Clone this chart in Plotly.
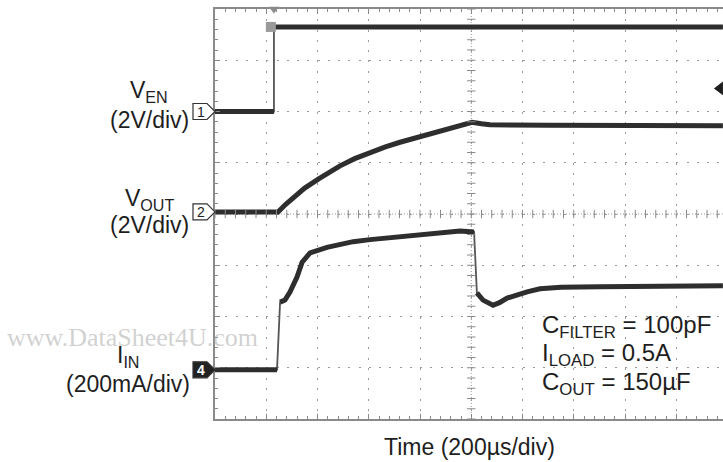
import numpy as np
import plotly.graph_objects as go

# ---------------- data ----------------
# time in µs from the left edge of the screen; 200 µs/div
ven_t = [0, 230, 230, 1982]
ven_v = [0.0, 0.0, 3.3, 3.3]                      # volts, 2 V/div

vout_t = [0, 246, 275, 304, 350, 406, 450, 488, 545, 605, 665, 722, 800, 850, 905, 950, 987, 1003, 1040, 1073, 1300, 1600, 1982]
vout_v = [0.0, 0.0, 0.29, 0.55, 0.93, 1.30, 1.57, 1.80, 2.08, 2.33, 2.54, 2.72, 2.94, 3.08, 3.23, 3.36, 3.46, 3.50, 3.44, 3.40, 3.38, 3.37, 3.36]

iin_t = [0, 242, 254, 273, 293, 320, 340, 371, 437, 539, 605, 722, 827, 956, 1011, 1022, 1046, 1085, 1110, 1140, 1180, 1218, 1268, 1350, 1502, 1982]
iin_ma = [0, 0, 264, 272, 304, 362, 420, 456, 478, 500, 508, 520, 532, 542, 538, 300, 272, 252, 262, 280, 294, 304, 316, 322, 324, 328]

# channel settings: volts (or mA) per division, ground position in divisions
ch_names = ["1", "2", "4"]
ch_scale = [2.0, 2.0, 200.0]
ch_ground = [6.0, 4.04, 0.96]
trig_level_v = 0.9           # ch1 trigger level (V)

time_per_div = 200
n_xdiv_visible = 508 / 51.25   # screen is cut off at the right
n_ydiv = 8

# ---------------- style ----------------
FONT = "Liberation Sans, Arial, sans-serif"
TRACE = "#2e2e2e"
GRID = "#9a9a9a"
FRAME = "#8a8a8a"

fig = go.Figure()

def to_div(vals, scale, ground):
    return [ground + v / scale for v in vals]

def thick_version(t, y):
    """break the thick line where the trace is a near-vertical edge"""
    xt, yt = [t[0]], [y[0]]
    for i in range(1, len(t)):
        dx = (t[i] - t[i - 1]) / time_per_div
        dy = abs(y[i] - y[i - 1])
        if dy > 0.5 and (dx == 0 or dy / dx > 6):
            xt.append(None); yt.append(None)
        xt.append(t[i]); yt.append(y[i])
    return xt, yt

traces = [(ven_t, to_div(ven_v, ch_scale[0], ch_ground[0])),
          (vout_t, to_div(vout_v, ch_scale[1], ch_ground[1])),
          (iin_t, to_div(iin_ma, ch_scale[2], ch_ground[2]))]

for t, y in traces:
    fig.add_trace(go.Scatter(x=t, y=y, mode="lines",
                             line=dict(color="#555555", width=1.8),
                             hoverinfo="skip", showlegend=False))
    xt, yt = thick_version(t, y)
    fig.add_trace(go.Scatter(x=xt, y=yt, mode="lines",
                             line=dict(color=TRACE, width=5),
                             connectgaps=False,
                             hoverinfo="skip", showlegend=False))

xmax = n_xdiv_visible * time_per_div
xc = 5 * time_per_div
yc = n_ydiv / 2

# center cross with sub-division ticks
fig.add_shape(type="line", x0=0, x1=xmax, y0=yc, y1=yc,
              line=dict(color=GRID, width=1, dash="1px,2px"), layer="below")
fig.add_shape(type="line", x0=xc, x1=xc, y0=0, y1=n_ydiv,
              line=dict(color=GRID, width=1, dash="1px,2px"), layer="below")
sub_x = np.arange(0, xmax, time_per_div / 5)
sub_y = np.arange(0, n_ydiv + 0.01, 0.2)
fig.add_trace(go.Scatter(x=sub_x, y=[yc] * len(sub_x), mode="markers",
                         marker=dict(symbol="line-ns", size=6, line=dict(color=FRAME, width=1)),
                         hoverinfo="skip", showlegend=False))
fig.add_trace(go.Scatter(x=[xc] * len(sub_y), y=sub_y, mode="markers",
                         marker=dict(symbol="line-ew", size=6, line=dict(color=FRAME, width=1)),
                         hoverinfo="skip", showlegend=False))

# trigger markers
fig.add_trace(go.Scatter(x=[ven_t[1]], y=[n_ydiv], mode="markers", cliponaxis=False,
                         marker=dict(symbol="triangle-down", size=9, color="#8c8c8c"),
                         hoverinfo="skip", showlegend=False))
fig.add_trace(go.Scatter(x=[ven_t[1] - 12], y=[ch_ground[0] + ven_v[2] / ch_scale[0]], mode="markers",
                         marker=dict(symbol="square", size=10, color="#9a9a9a"),
                         hoverinfo="skip", showlegend=False))
fig.add_trace(go.Scatter(x=[xmax - 12], y=[ch_ground[0] + trig_level_v / ch_scale[0]],
                         mode="markers", cliponaxis=False,
                         marker=dict(symbol="triangle-left", size=12, color="#1e1e1e"),
                         hoverinfo="skip", showlegend=False))

# channel ground markers (boxed numbers with arrow)
for name, g in zip(ch_names, ch_ground):
    filled = name == "4"
    fig.add_shape(type="path", xref="paper", yref="paper", xsizemode="pixel", ysizemode="pixel",
                  xanchor=0, yanchor=g / n_ydiv,
                  path="M -22,-8 L -8,-8 L 0,0 L -8,8 L -22,8 Z",
                  line=dict(color="#333333", width=1.2),
                  fillcolor="#222222" if filled else "white", layer="above")
    fig.add_annotation(x=0, y=g / n_ydiv, xref="paper", yref="paper",
                       text="<b>" + name + "</b>" if filled else name,
                       showarrow=False, xanchor="center", yanchor="middle",
                       xshift=-14, font=dict(family=FONT, size=14,
                                             color="white" if filled else "#222222"))

# ---------------- text ----------------
W0, H0 = 215, 419
PW, PH = 508, 410

def pxx(x):
    return (x - W0) / PW

def pyy(y):
    return (H0 - y) / PH

def label(text, x, y, xanchor="center", size=23, color="#1e1e1e", family=FONT):
    fig.add_annotation(x=pxx(x), y=pyy(y), xref="paper", yref="paper", text=text,
                       showarrow=False, xanchor=xanchor, yanchor="middle",
                       font=dict(family=family, size=size, color=color))

label("V<sub>EN</sub>", 149, 92)
label("(2V/div)", 149, 120)
label("V<sub>OUT</sub>", 149, 199)
label("(2V/div)", 149, 225)
label("I<sub>IN</sub>", 128, 356)
label("(200mA/div)", 128, 384)
label("C<sub>FILTER</sub> = 100pF", 540, 326, xanchor="left", size=24)
label("I<sub>LOAD</sub> = 0.5A", 540, 354, xanchor="left", size=24)
label("C<sub>OUT</sub> = 150µF", 540, 383, xanchor="left", size=24)
label("Time (200µs/div)", 469, 447)
label("www.DataSheet4U.com", 5, 337, xanchor="left", size=26, color="rgba(170,170,170,0.55)",
      family="Liberation Serif, Times New Roman, serif")

fig.update_layout(
    width=723, height=462,
    margin=dict(l=215, r=0, t=9, b=43),
    paper_bgcolor="white", plot_bgcolor="white",
    showlegend=False,
    xaxis=dict(range=[0, xmax], dtick=time_per_div, tick0=0,
               showgrid=True, gridcolor=GRID, gridwidth=1, griddash="2px,8.25px",
               showline=True, linecolor=FRAME, linewidth=2, mirror="ticks",
               ticks="inside", ticklen=5, tickcolor=FRAME,
               minor=dict(dtick=time_per_div / 5, ticks="inside", ticklen=3, tickcolor=FRAME,
                          showgrid=False),
               showticklabels=False, zeroline=False, fixedrange=True),
    yaxis=dict(range=[0, n_ydiv], dtick=1, tick0=0,
               showgrid=True, gridcolor=GRID, gridwidth=1, griddash="2px,8.25px",
               showline=True, linecolor=FRAME, linewidth=2, mirror=False,
               ticks="inside", ticklen=5, tickcolor=FRAME,
               minor=dict(dtick=0.2, ticks="inside", ticklen=3, tickcolor=FRAME,
                          showgrid=False),
               showticklabels=False, zeroline=False, fixedrange=True),
)

fig.write_html("out.html", post_script="document.body.style.margin='0px';",
               config={"displayModeBar": False})
